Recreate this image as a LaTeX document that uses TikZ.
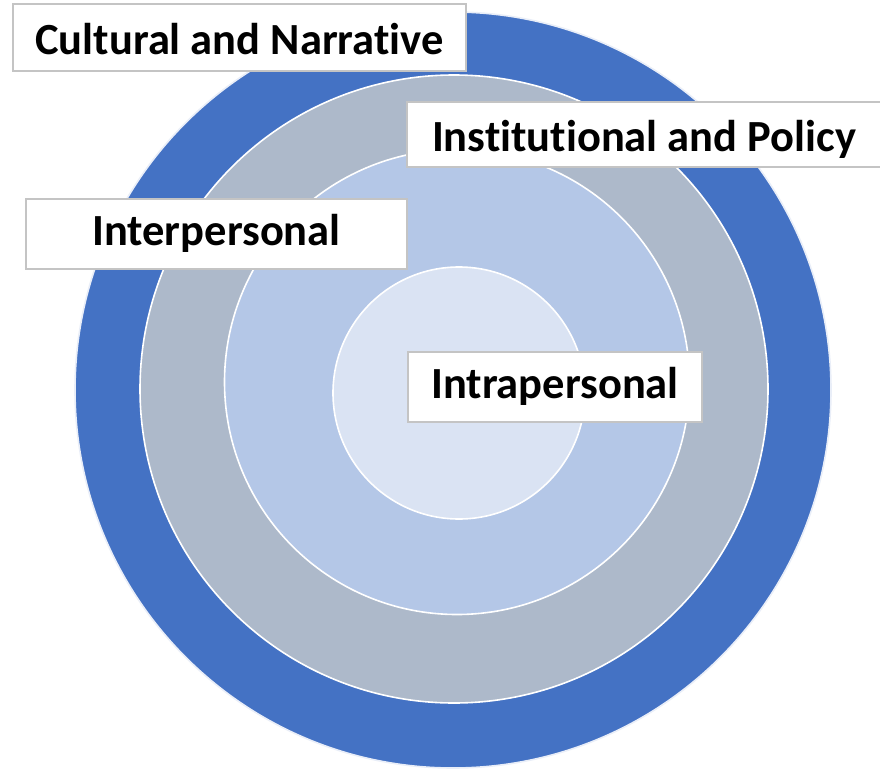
\documentclass[tikz,border=0pt]{standalone}
\usepackage{fontspec}
\setmainfont[Ligatures=NoCommon]{Carlito}
\definecolor{ringA}{HTML}{4472C4}
\definecolor{ringB}{HTML}{ADB9CA}
\definecolor{ringC}{HTML}{B4C7E7}
\definecolor{ringD}{HTML}{DAE3F3}
\definecolor{boxline}{HTML}{C4C4C4}
\begin{document}
\begin{tikzpicture}[x=1pt,y=-1pt,
  ring/.style={draw=white, line width=1.6pt},
  lblbox/.style={draw=boxline, line width=1.2pt, fill=white, inner sep=0pt,
    font=\fontsize{44.5}{50}\selectfont\bfseries, text=black}]
\useasboundingbox (0,0) rectangle (880,768);
\fill[white] (0,0) rectangle (880,768);
\node[ring, draw=ringD!60, fill=ringA, circle, minimum size=756pt, inner sep=0pt] (c1) at (453,390) {};
\node[ring, fill=ringB, circle, minimum size=628pt, inner sep=0pt] (c2) at (454,389) {};
\node[ring, fill=ringC, circle, minimum size=465pt, inner sep=0pt] (c3) at (457,382) {};
\node[ring, fill=ringD, circle, minimum size=252pt, inner sep=0pt] (c4) at (459,393) {};
\node[lblbox, minimum width=453pt, minimum height=67pt, text height=45pt, text depth=10pt] (cult) at (239.5,37.5) {Cultural and Narrative};
\node[lblbox, minimum width=474pt, minimum height=65pt, text height=42pt, text depth=9pt] (inst) at (644,134.5) {Institutional and Policy};
\node[lblbox, minimum width=381pt, minimum height=70pt, text height=40pt, text depth=18pt] (inter) at (216.5,234) {Interpersonal};
\node[lblbox, minimum width=294pt, minimum height=70pt, text height=40pt, text depth=18pt] (intra) at (555,387) {Intrapersonal};
\end{tikzpicture}
\end{document}
